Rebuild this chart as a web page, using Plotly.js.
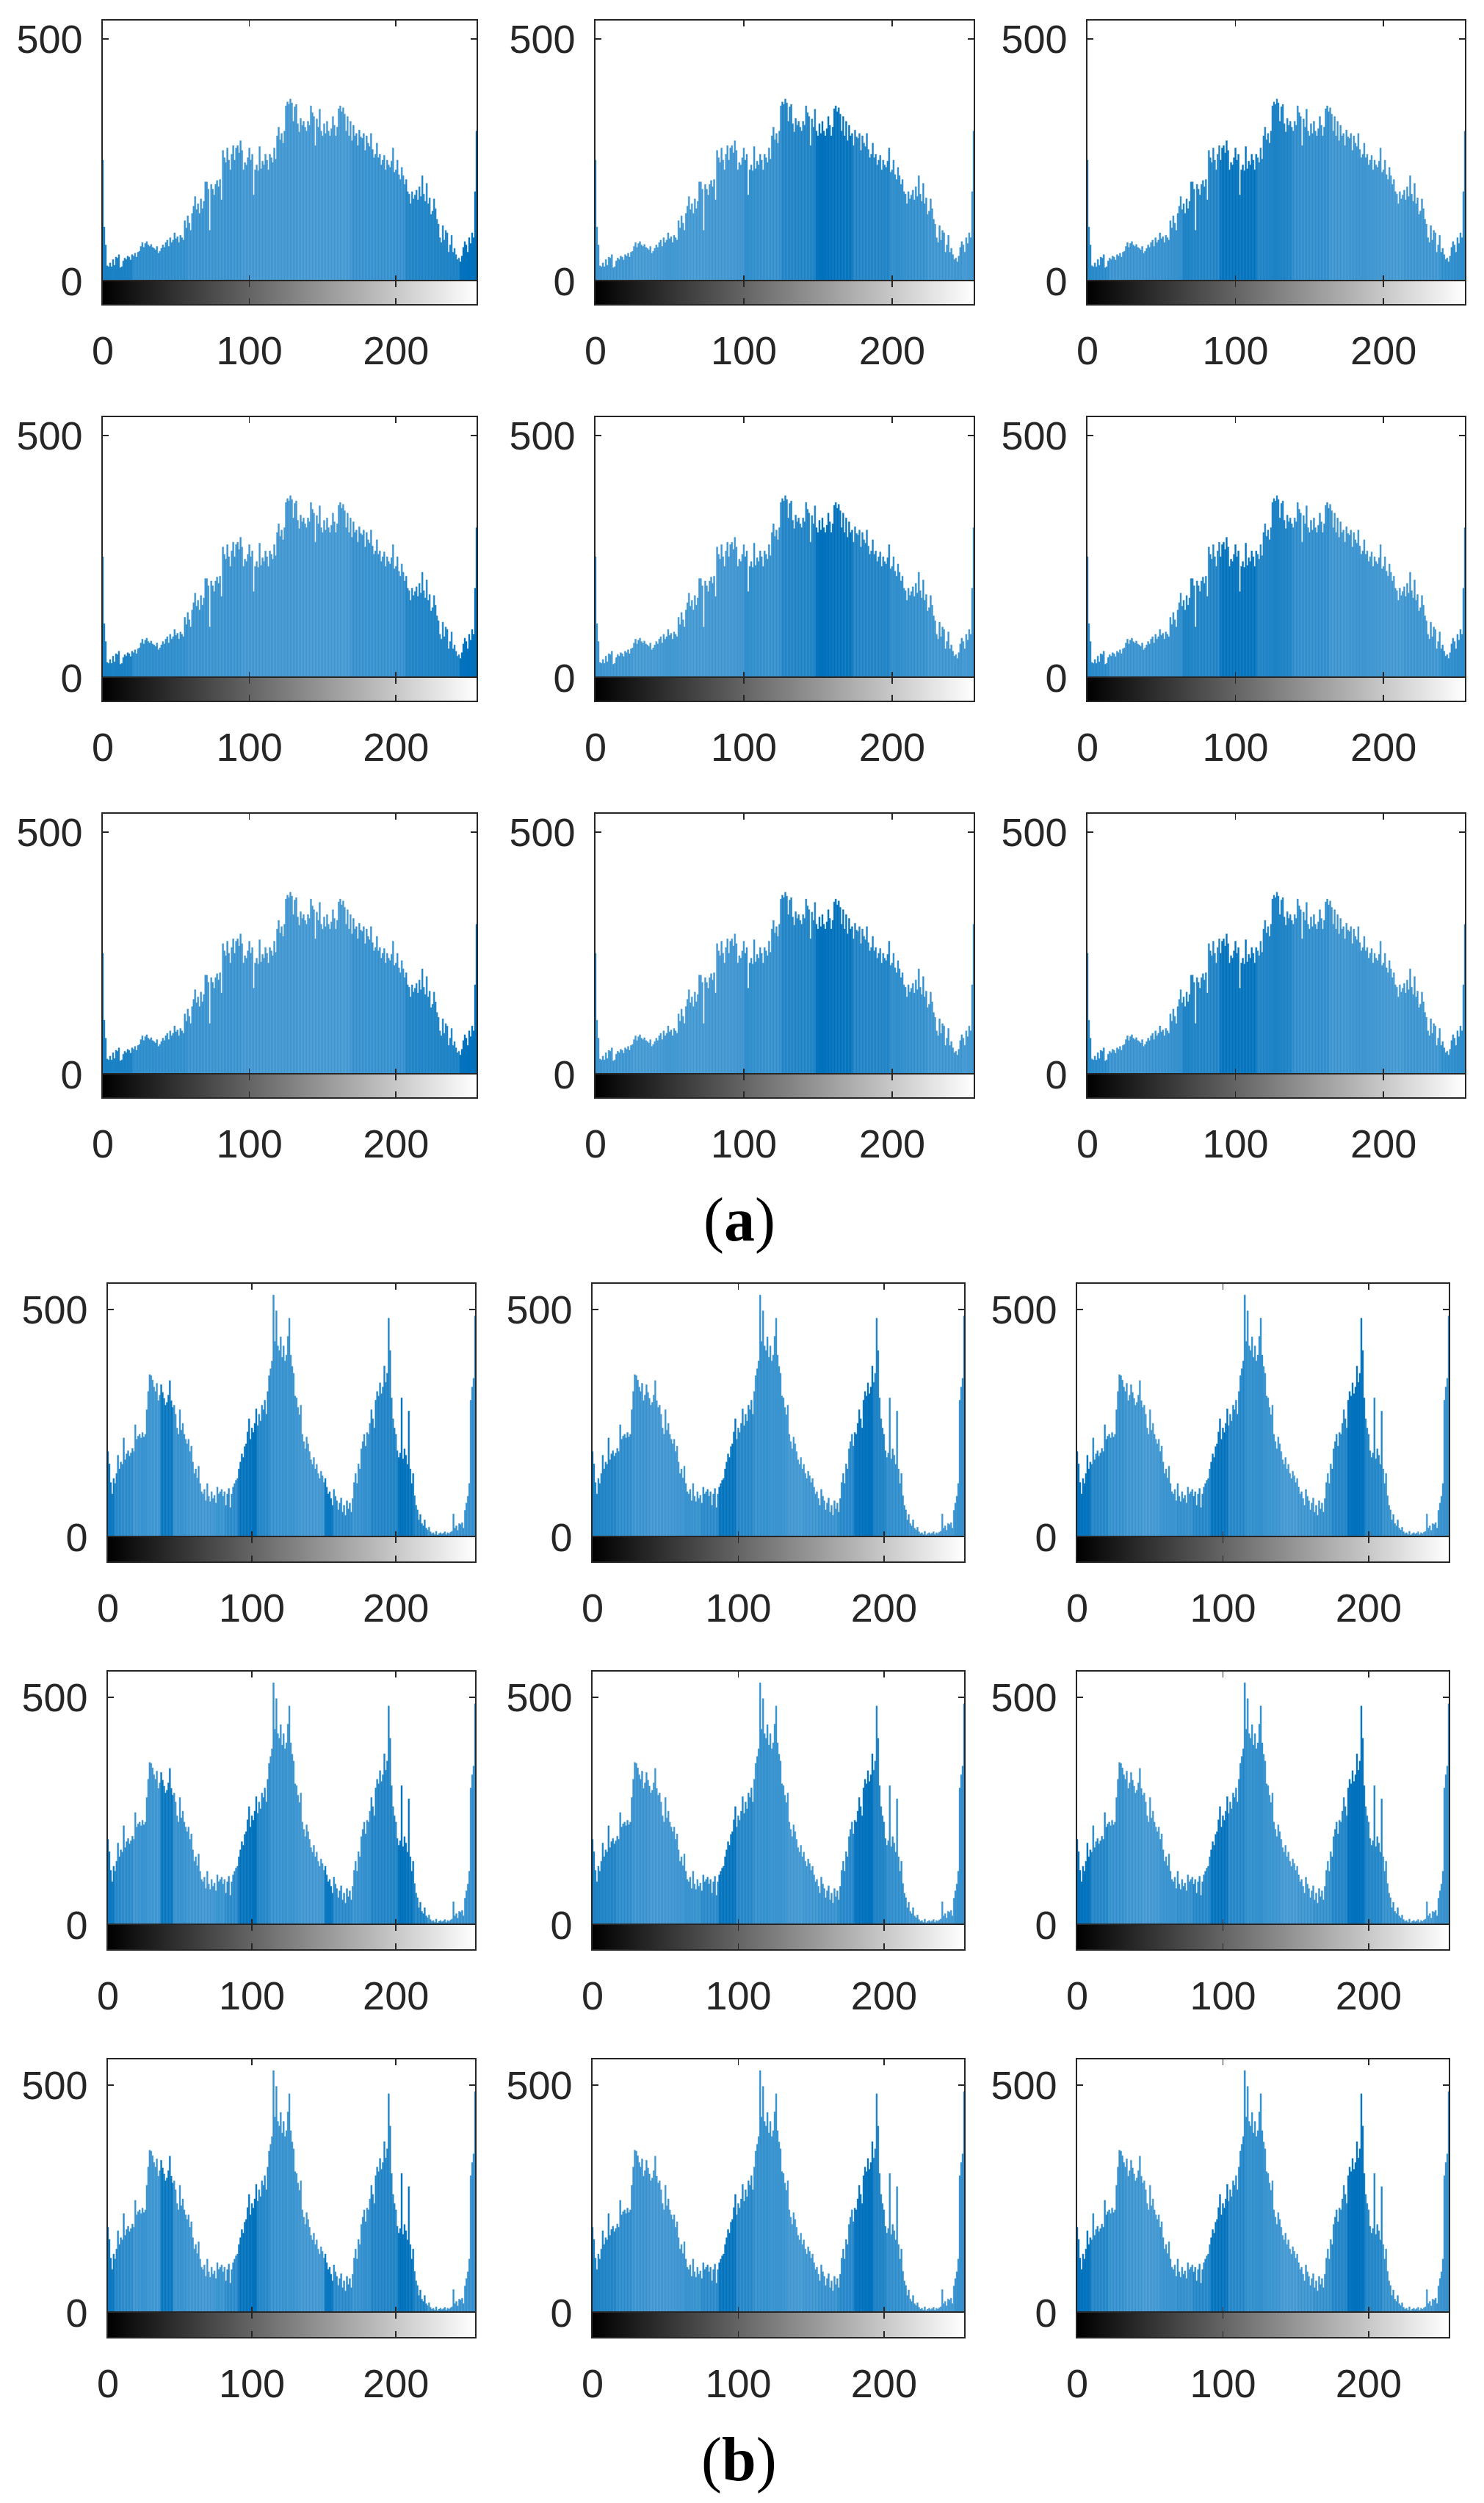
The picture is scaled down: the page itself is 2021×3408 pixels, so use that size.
<!DOCTYPE html>
<html>
<head>
<meta charset="utf-8">
<script src="https://cdn.plot.ly/plotly-3.0.1.min.js"></script>
<style>html,body{margin:0;padding:0;background:#fff;} #chart{width:2021px;height:3408px;}</style>
</head>
<body>
<div id="chart"></div>
<script>
// ---------------- DATA ----------------
// gray levels (histogram bins)
const bins = Array.from({length: 256}, (_, i) => i);
const grayTicks = [0, 100, 200];
const countTicks = [0, 500];

// histogram counts, group (a) (same image histogram in all 9 panels)
const countsA = [
  250,112,75,32,30,38,30,45,33,50,48,55,28,30,42,48,
  45,52,50,44,55,52,58,50,60,62,72,80,70,78,82,75,
  72,76,70,68,65,72,58,62,68,75,70,80,85,72,90,80,
  85,100,88,92,80,95,90,85,125,110,135,120,105,140,155,175,
  148,160,140,170,150,165,205,205,190,105,200,190,178,200,208,195,
  210,168,270,255,245,275,250,230,262,280,250,275,280,265,290,270,
  230,245,240,255,275,250,262,178,230,240,228,278,232,248,240,262,
  250,230,262,255,245,275,252,300,318,292,305,285,310,362,370,365,
  376,368,330,360,365,325,308,336,322,330,318,310,330,322,362,348,
  340,280,335,318,355,310,300,325,305,330,310,300,315,340,322,300,
  318,356,362,350,358,345,310,340,300,330,290,322,300,305,280,312,
  298,295,305,270,300,285,278,305,272,255,262,285,255,262,240,250,
  260,230,250,240,235,248,275,225,230,250,220,210,235,218,200,210,
  185,180,160,185,170,178,188,168,195,175,218,180,165,202,160,172,
  138,145,170,150,128,118,90,80,115,85,105,100,60,75,95,60,
  68,55,45,48,40,52,70,82,75,60,90,78,100,90,185,310
];

// histogram counts, group (b)
const countsB = [
  188,161,120,95,129,118,140,180,150,165,160,218,170,183,190,178,
  185,195,188,247,215,222,226,218,230,220,226,280,320,357,355,345,
  330,320,338,300,312,335,318,305,290,296,312,344,300,285,290,270,
  240,226,280,235,250,226,215,205,215,188,200,165,140,150,130,156,
  118,100,95,105,80,118,90,78,100,85,92,75,110,95,100,105,
  90,100,70,95,107,65,95,110,118,125,129,150,165,183,175,199,
  205,231,260,215,240,230,250,282,245,270,255,290,280,301,270,320,
  355,370,387,532,430,497,420,410,440,395,420,387,400,441,481,400,
  375,360,310,306,285,269,290,226,210,194,220,205,188,170,160,175,
  150,160,140,129,145,135,120,129,110,95,100,85,70,105,90,80,
  60,75,86,55,70,48,80,62,75,55,85,120,140,118,161,150,
  194,210,226,200,230,226,250,280,260,240,301,320,310,339,315,330,
  376,340,360,481,410,306,260,240,226,190,175,185,306,172,194,180,
  160,277,150,118,140,91,70,60,38,50,30,25,38,20,16,22,
  12,8,10,6,13,5,8,10,7,9,12,6,10,8,11,13,
  51,20,25,15,30,28,32,20,59,75,90,118,301,330,349,486
];

// shading bands seen in the bars (0 = darkest blue, 1 = lightest blue), per column
const edgesA1 = [0,21,58,95,133,170,207,244,256];
const shadesA1 = [0.4,0.7,0.85,0.95,1.0,0.8,0.45,0];
const edgesA2 = [0,25,50,76,101,126,149,174,199,224,248,256];
const shadesA2 = [0.9,1.0,1.0,0.95,0.75,0.45,0,0.45,0.75,0.9,1.0];
const edgesA3 = [0,15,40,65,90,115,139,164,189,214,239,256];
const shadesA3 = [0.6,0.85,0.8,0.45,0,0.45,0.7,0.9,1.0,0.9,0.7];
const edgesB1 = [0,5,10,18,27,37,46,55,64,75,82,91,104,113,125,134,151,157,170,183,202,213,222,256];
const shadesB1 = [0.1,0.5,0.6,0.85,0.9,0.1,0.85,0.9,0.95,0.9,0.6,0,0.5,0.8,0.9,0.95,0.1,0.6,0.8,0.45,0,0.4,0.8];
const edgesB2 = [0,17,28,40,51,64,75,87,99,111,122,134,145,155,169,180,193,202,217,228,249,256];
const shadesB2 = [0.45,0.65,0.85,0.95,0.95,0.85,0.6,0,0.5,0.75,0.9,1.0,0.9,0.8,0.55,0,0.45,0.7,0.85,0.95,0.8];
const edgesB3 = [0,10,22,33,45,57,69,80,92,104,116,128,140,152,163,175,186,198,210,222,234,246,256];
const shadesB3 = [0,0.5,0.75,0.9,1.0,0.9,0.75,0.5,0,0.5,0.75,0.9,1.0,0.9,0.75,0.5,0,0.5,0.75,0.9,1.0,0.85];

// ---------------- LAYOUT ----------------
const W = 2021, H = 3408;
const FONT = "'Liberation Sans', Arial, Helvetica, sans-serif";
const INK = '#262626';

function binColors(edges, shades) {
  return bins.map(b => {
    let k = 0;
    while (k < shades.length - 1 && b >= edges[k + 1]) k++;
    const s = shades[k];
    return 'rgb(' + Math.round(66 * s) + ',' + Math.round(114 + 38 * s) + ',' + Math.round(189 + 21 * s) + ')';
  });
}

const groups = [
  {counts: countsA, cols: [[140,649],[811,1326],[1481,1995]], top0: 28, zero0: 383, cb0: 414, y500: 53, pitch: 540,
   bands: [[edgesA1, shadesA1],[edgesA2, shadesA2],[edgesA3, shadesA3]]},
  {counts: countsB, cols: [[147,647],[807,1313],[1467,1973]], top0: 1748, zero0: 2093, cb0: 2126, y500: 1783, pitch: 528,
   bands: [[edgesB1, shadesB1],[edgesB2, shadesB2],[edgesB3, shadesB3]]}
];

const axBase = {
  showline: true, mirror: 'ticks', linecolor: INK, linewidth: 1.6,
  ticks: 'inside', ticklen: 8, tickwidth: 1.6, tickcolor: INK,
  showgrid: false, zeroline: false, fixedrange: true,
  tickfont: {family: FONT, size: 54, color: INK}
};

const data = [];
const layout = {
  width: W, height: H, autosize: false,
  margin: {l: 0, r: 0, t: 0, b: 0, pad: 0},
  paper_bgcolor: '#ffffff', plot_bgcolor: 'rgba(0,0,0,0)',
  showlegend: false, bargap: 0,
  font: {family: FONT, color: INK},
  annotations: []
};

function axName(kind, i) { return kind + 'axis' + (i === 1 ? '' : i); }
function axRef(kind, i) { return kind + (i === 1 ? '' : i); }

let n = 0;
groups.forEach(g => {
  const ymax = 500 * (g.zero0 - g.top0) / (g.zero0 - g.y500);
  for (let r = 0; r < 3; r++) {
    for (let c = 0; c < 3; c++) {
      const hi = 2 * n + 1, ci = 2 * n + 2; n++;
      const top = g.top0 + r * g.pitch, zero = g.zero0 + r * g.pitch, cb = g.cb0 + r * g.pitch;
      const xd = [g.cols[c][0] / W, g.cols[c][1] / W];
      layout[axName('x', hi)] = Object.assign({}, axBase, {domain: xd, anchor: axRef('y', hi), range: [0, 255],
        tickvals: grayTicks, showticklabels: false});
      layout[axName('y', hi)] = Object.assign({}, axBase, {domain: [1 - zero / H, 1 - top / H], anchor: axRef('x', hi),
        range: [0, ymax], tickvals: countTicks, ticktext: countTicks.map(String), showticklabels: true, ticklabelstandoff: 15});
      layout[axName('x', ci)] = Object.assign({}, axBase, {domain: xd, anchor: axRef('y', ci), range: [0, 255],
        tickvals: grayTicks, ticktext: grayTicks.map(String), showticklabels: true, ticklabelstandoff: 16});
      layout[axName('y', ci)] = Object.assign({}, axBase, {domain: [1 - cb / H, 1 - zero / H], anchor: axRef('x', ci),
        range: [0, 1], tickvals: [], showticklabels: false, ticks: '', mirror: true});

      const cols = binColors(g.bands[c][0], g.bands[c][1]);
      data.push({
        type: 'bar', x: bins, y: g.counts, width: 1,
        xaxis: axRef('x', hi), yaxis: axRef('y', hi),
        marker: {color: cols, line: {width: 0.4, color: cols}},
        hoverinfo: 'skip'
      });
      data.push({
        type: 'heatmap', x: bins, y: [0.5], z: [bins],
        xaxis: axRef('x', ci), yaxis: axRef('y', ci),
        colorscale: [[0, '#000000'], [1, '#ffffff']], zmin: 0, zmax: 255,
        showscale: false, hoverinfo: 'skip'
      });
    }
  }
});

layout.annotations.push({
  text: '(<b>a</b>)', xref: 'paper', yref: 'paper', x: 1007 / W, y: 1 - 1661 / H,
  xanchor: 'center', yanchor: 'middle', showarrow: false,
  font: {family: "'Liberation Serif', 'Times New Roman', serif", size: 84, color: '#000000'}
});
layout.annotations.push({
  text: '(<b>b</b>)', xref: 'paper', yref: 'paper', x: 1006 / W, y: 1 - 3349 / H,
  xanchor: 'center', yanchor: 'middle', showarrow: false,
  font: {family: "'Liberation Serif', 'Times New Roman', serif", size: 84, color: '#000000'}
});

Plotly.newPlot('chart', data, layout, {staticPlot: true, displayModeBar: false});
</script>
</body>
</html>
